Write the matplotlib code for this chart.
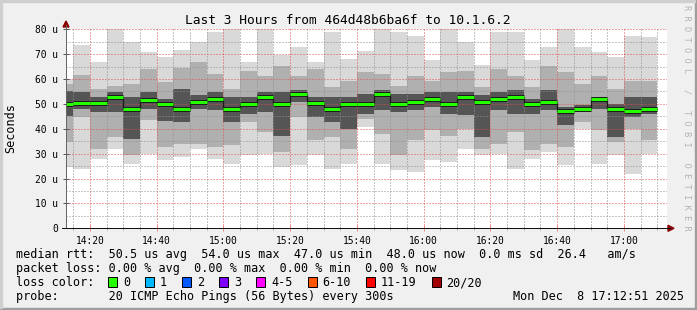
import numpy as np
import matplotlib.pyplot as plt
from matplotlib.patches import Rectangle, Polygon
from matplotlib.lines import Line2D

W, H = 697, 310

# 5 minute steps (start of each step)
steps = ["14:10", "14:15", "14:20", "14:25", "14:30", "14:35", "14:40", "14:45", "14:50",
         "14:55", "15:00", "15:05", "15:10", "15:15", "15:20", "15:25", "15:30", "15:35",
         "15:40", "15:45", "15:50", "15:55", "16:00", "16:05", "16:10", "16:15", "16:20",
         "16:25", "16:30", "16:35", "16:40", "16:45", "16:50", "16:55", "17:00", "17:05"]

# smoke bands in microseconds (max, upper, inner upper, median, inner lower, lower, min)
rtt_max = [60, 73.5, 66.8, 80, 74.8, 70.8, 68.8, 71.5, 74.8, 78.8, 80, 66.8, 80, 69.5, 72.8, 66.8, 78.8, 68.1,
           71.1, 80, 78.8, 77.5, 67.5, 80, 74.8, 65.5, 78.8, 79, 67.5, 72.8, 80, 72.8, 70.8, 68.8, 77.5, 76.8]
rtt_hi = [58, 61.7, 56, 57.4, 58, 64, 58.8, 64.6, 66.8, 62, 56, 63.4, 61.4, 65.3, 61.4, 64.1, 56.7, 59.4,
          62.8, 62.1, 57.4, 61.4, 59.4, 62.8, 63.4, 56.7, 64.2, 61.4, 56.7, 65.3, 62.8, 58.1, 61.4, 56, 59.4, 59.4]
rtt_q3 = [55, 54.7, 52.7, 54.7, 52.7, 54.7, 52, 56, 53.4, 54.7, 52.7, 52.7, 54.7, 54.7, 55.4, 52.7, 52.7, 52.7,
          54, 55.4, 54, 54, 54.7, 54.7, 54.7, 53.4, 54.7, 55.4, 52, 55.4, 48.7, 49.4, 52.7, 50, 52.7, 52.7]
median = [49.8, 50.5, 50.5, 52.7, 47.8, 51.4, 49.8, 47.8, 50.7, 51.8, 47.8, 49.8, 52.6, 49.8, 54.0, 50.5, 47.8, 49.8,
          49.8, 53.8, 49.8, 50.7, 51.8, 49.8, 52.7, 50.7, 51.8, 52.7, 49.8, 50.7, 47.0, 47.8, 51.8, 47.8, 47.0, 48.0]
rtt_q1 = [45, 48, 46.7, 46.7, 36, 48, 43, 42.7, 48, 47.4, 42.7, 46, 46.8, 37.3, 50.8, 44.7, 42.7, 40,
          46, 47.4, 46.8, 47.4, 48.7, 46, 45.4, 36.7, 47.4, 46, 46, 47.4, 41.4, 46.7, 48, 36.7, 44.7, 46]
rtt_lo = [34.5, 44.7, 32, 36.7, 29.3, 43.4, 32.7, 34, 34, 32.7, 33.3, 42.7, 38.7, 30.6, 44.7, 35.3, 36.7, 32,
          44, 38, 29.3, 35.3, 39.4, 37.3, 40, 32, 34, 38.7, 31.3, 34, 32.7, 42.7, 39.4, 34.7, 40, 35.3]
rtt_min = [24.5, 24, 28, 32, 26, 30, 27.3, 28.6, 32, 28, 26, 29.3, 30, 24.6, 25.3, 29.3, 24, 26,
           40.7, 26, 23.3, 22.6, 27.3, 26.6, 32, 29.3, 30, 24, 28, 30.7, 25.3, 40, 26, 29.3, 22, 30]

loss_labels = ["0", "1", "2", "3", "4-5", "6-10", "11-19", "20/20"]
loss_colors = ["#26ff00", "#00b8ff", "#0059ff", "#7e00ff", "#ff00ff", "#ff5500", "#ff0000", "#a10000"]

title = "Last 3 Hours from 464d48b6ba6f to 10.1.6.2"
row_rtt = "median rtt:  50.5 us avg  54.0 us max  47.0 us min  48.0 us now  0.0 ms sd  26.4   am/s"
row_loss = "packet loss: 0.00 % avg  0.00 % max  0.00 % min  0.00 % now"
row_probe = "probe:       20 ICMP Echo Pings (56 Bytes) every 300s"
stamp = "Mon Dec  8 17:12:51 2025"


def minutes(s):
    h, m = s.split(':')
    return int(h) * 60 + int(m)


def px(x, y):
    return x / W, 1 - y / H


MONO = 'DejaVu Sans Mono'
GRID = (0.56, 0.56, 0.56, 0.75)
MGRID = (0.87, 0.31, 0.31, 0.6)
ARROW = '#8b0000'

x = np.array([minutes(s) for s in steps], dtype=float)
edges = np.append(x, x[-1] + 5)
t0 = minutes("14:12") + 51 / 60
t1 = minutes("17:12") + 51 / 60

fig = plt.figure(figsize=(W / 100, H / 100), dpi=100, facecolor='#f0f0f0')
ax = fig.add_axes([66 / W, 1 - 228.3 / H, (666.8 - 66) / W, (228.3 - 29.3) / H])
ax.set_facecolor('white')

bands = [(rtt_min, rtt_max, '#d9d9d9'), (rtt_lo, rtt_hi, '#b0b0b0'), (rtt_q1, rtt_q3, '#555555')]
for lo, hi, col in bands:
    lo = np.array(lo)
    hi = np.array(hi)
    ax.bar(x, hi - lo, bottom=lo, width=5, align='edge', color=col, lw=0,
           antialiased=False, zorder=1)

ax.stairs(median, edges, baseline=None, color='#1a1a1a', lw=0.9, zorder=3)
ax.hlines(median, x, x + 5, color='#1a1a1a', lw=3.6, capstyle='butt', zorder=3)
ax.hlines(median, x, x + 5, color=loss_colors[0], lw=2.2, capstyle='butt', zorder=4)

ax.set_xlim(t0, t1)
ax.set_ylim(0, 80)

major_x = [minutes(s) for s in ["14:20", "14:40", "15:00", "15:20", "15:40", "16:00", "16:20", "16:40", "17:00"]]
ax.set_xticks(major_x)
ax.set_xticklabels(["%d:%02d" % (m // 60, m % 60) for m in major_x])
ax.set_xticks(edges[1:], minor=True)
ax.set_yticks(range(0, 81, 10))
ax.set_yticklabels(["0"] + ["%d u" % v for v in range(10, 81, 10)])
ax.set_yticks(range(5, 80, 10), minor=True)

ax.grid(True, which='minor', color=GRID, linestyle=(0, (1, 2)), lw=0.72)
ax.grid(True, which='major', color=MGRID, linestyle=(0, (1, 2)), lw=0.72)
ax.set_axisbelow(False)

for s in ax.spines.values():
    s.set_visible(False)

ax.tick_params(axis='x', which='major', direction='inout', length=5, width=0.72, color=MGRID,
               pad=3, labelsize=6.9, labelfontfamily=MONO)
ax.tick_params(axis='x', which='minor', direction='inout', length=3, width=0.72, color=GRID)
ax.tick_params(axis='y', which='major', direction='inout', length=5, width=0.72, color='#555555',
               pad=3, labelsize=6.9, labelfontfamily=MONO)
ax.tick_params(axis='y', which='minor', length=0)

# axis lines and arrows
fig.add_artist(Line2D(*zip(px(66, 228.3), px(66, 25)), color='#666666', lw=0.72))
fig.add_artist(Line2D(*zip(px(62, 228.3), px(670, 228.3)), color='#111111', lw=0.72))
fig.add_artist(Polygon([px(66, 21), px(63, 27), px(69, 27)], closed=True, color=ARROW,
                       transform=fig.transFigure))
fig.add_artist(Polygon([px(674, 228.3), px(668, 225.3), px(668, 231.3)], closed=True, color=ARROW,
                       transform=fig.transFigure))

# frame shading
fig.add_artist(Rectangle((0, 0), 1, 2 / H, color='#9e9e9e', transform=fig.transFigure))
fig.add_artist(Rectangle((1 - 2 / W, 0), 2 / W, 1, color='#9e9e9e', transform=fig.transFigure))
fig.add_artist(Rectangle((0, 1 - 2 / H), 1 - 2 / W, 2 / H, color='#cfcfcf', transform=fig.transFigure))
fig.add_artist(Rectangle((0, 2 / H), 2 / W, 1 - 4 / H, color='#cfcfcf', transform=fig.transFigure))

# texts
fig.text(*px(347.5, 24), title, ha='center', va='baseline', fontsize=9.3, family=MONO)
fig.text(*px(11, 128.5), "Seconds", rotation=90, ha='center', va='center', fontsize=8.5, family=MONO)
fig.text(*px(687, 5), " ".join("RRDTOOL / TOBI OETIKER"), rotation=270, ha='center', va='top',
         fontsize=6.3, family=MONO, color='#b4b4b4')

fig.text(*px(16, 258.3), row_rtt, va='baseline', fontsize=8.5, family=MONO)
fig.text(*px(16, 272.3), row_loss, va='baseline', fontsize=8.5, family=MONO)
fig.text(*px(16, 286.3), "loss color:", va='baseline', fontsize=8.5, family=MONO)
fig.text(*px(16, 300), row_probe, va='baseline', fontsize=8.5, family=MONO)
fig.text(*px(513, 300), stamp, va='baseline', fontsize=8.5, family=MONO)

bx = 108
for lab, col in zip(loss_labels, loss_colors):
    fig.add_artist(Rectangle(px(bx, 286.5), 9 / W, 10 / H, facecolor=col, edgecolor='black',
                             lw=0.72, transform=fig.transFigure))
    fig.text(*px(bx + 15, 286.3), lab, va='baseline', fontsize=8.5, family=MONO)
    bx += 15 + len(lab) * 7.1 + 15

fig.savefig('out.png', dpi=100, facecolor=fig.get_facecolor())
